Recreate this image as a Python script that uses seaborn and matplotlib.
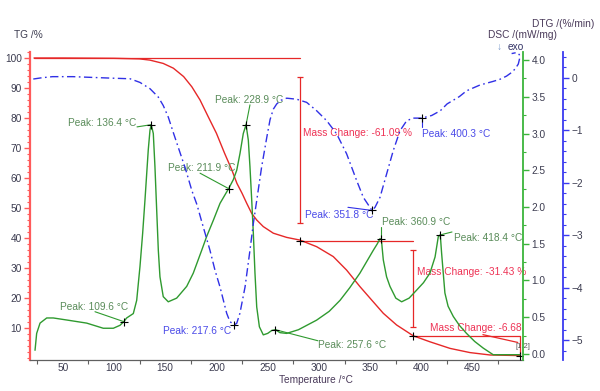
import numpy as np
import pandas as pd
import matplotlib
matplotlib.use("Agg")
import matplotlib.pyplot as plt
from matplotlib.ticker import MultipleLocator, FixedLocator, FormatStrFormatter
import seaborn as sns

# ---------------- data ----------------
tg_T = [22, 50, 100, 125, 135, 148, 158, 168, 176, 184, 192, 200, 208, 215, 220, 225,
        229.5, 234.4, 239.3, 245.7, 255.5, 268.5, 281.5, 297.8, 314, 327, 340, 351.5,
        362.8, 375.8, 392, 408.3, 427.9, 447.4, 467, 496]
tg_val = [100, 100, 99.9, 99.7, 99.3, 98.2, 96.6, 93.8, 90.4, 86, 80.4, 74.9, 68.2, 62.7,
          58.2, 54.9, 51.6, 48.2, 46, 43.8, 41.6, 40.2, 39.3, 37.1, 33.8, 29.3, 23.8, 19.3,
          14.9, 11, 7.4, 5.4, 3.2, 1.8, 1.0, 0.8]

dsc_T = [23, 24.6, 27.9, 34.4, 40.8, 55, 73.4, 89.6, 99.4, 105.9, 109.6, 112.4, 118.9,
         122.2, 125.4, 128, 130.3, 133.5, 135.2, 136.4, 138.4, 140, 141.7, 143.3, 144.9,
         148.1, 153, 161.2, 171, 177.4, 185.6, 190.5, 197, 203.5, 211.9, 216.4, 219.8, 223,
         226.2, 228.9, 231.1, 232.7, 234.4, 236, 237.6, 239.3, 241.9, 245.7, 250, 254, 257.6,
         262, 268.5, 280, 297.7, 310, 320.6, 330, 340, 353, 357, 359.6, 360.9, 362.8, 366,
         369.3, 375, 380.7, 388, 395.4, 402, 408.3, 413.3, 416.5, 418.4, 419.7, 422.9, 426,
         431.1, 437, 444, 452, 460.3, 470, 496]
dsc_val = [0.05, 0.28, 0.42, 0.49, 0.49, 0.46, 0.42, 0.35, 0.35, 0.39, 0.44, 0.49, 0.55,
           0.73, 1.19, 1.64, 2.10, 2.78, 3.05, 3.12, 3.0, 2.55, 1.96, 1.41, 1.05, 0.78, 0.71,
           0.76, 0.92, 1.10, 1.41, 1.60, 1.82, 2.05, 2.25, 2.37, 2.50, 2.73, 3.0, 3.12, 2.91,
           2.55, 2.10, 1.64, 1.10, 0.64, 0.37, 0.26, 0.28, 0.32, 0.33, 0.29, 0.28, 0.33, 0.46,
           0.58, 0.73, 0.90, 1.10, 1.41, 1.50, 1.57, 1.56, 1.28, 1.05, 0.92, 0.76, 0.71, 0.76,
           0.87, 0.97, 1.10, 1.32, 1.60, 1.62, 1.37, 0.83, 0.65, 0.51, 0.39, 0.28, 0.17, 0.08,
           -0.01, -0.01]

dtg_T = [21.3, 30, 40, 60, 86.4, 100, 115.7, 125.4, 135.2, 143.3, 148.1, 153, 158, 164, 170,
         176, 181, 185.6, 193.7, 198.6, 203.5, 210, 213.2, 217.6, 219.8, 222.9, 227.9, 232.7,
         236, 239.3, 244.1, 249, 252.3, 255.5, 258.8, 263, 268.5, 278.3, 288, 297.8, 307.6,
         317.3, 327, 336.8, 343.3, 351.8, 354.7, 359.6, 366.1, 372.5, 379.1, 385.6, 392, 400.3,
         410, 418.4, 425, 437, 444, 457, 470, 476.6, 483, 488, 491.5, 494.5, 496.1, 495.5,
         493, 488]
dtg_val = [-0.025, 0.0, 0.02, 0.02, 0.0, -0.01, -0.02, -0.09, -0.21, -0.37, -0.53, -0.75,
           -1.05, -1.4, -1.75, -2.15, -2.42, -2.74, -3.29, -3.67, -3.99, -4.49, -4.65, -4.71,
           -4.68, -4.49, -3.99, -3.29, -2.78, -2.34, -1.7, -1.15, -0.8, -0.6, -0.5, -0.43,
           -0.39, -0.41, -0.47, -0.63, -0.82, -1.07, -1.45, -1.96, -2.28, -2.53, -2.47, -2.28,
           -1.83, -1.39, -1.01, -0.82, -0.77, -0.77, -0.72, -0.63, -0.5, -0.36, -0.25, -0.14,
           -0.07, -0.03, 0.03, 0.10, 0.17, 0.26, 0.39, 0.44, 0.48, 0.46]

dsc_peak_T = [109.6, 136.4, 211.9, 228.9, 257.6, 360.9, 418.4]
dsc_peak_val = [0.44, 3.12, 2.25, 3.12, 0.33, 1.56, 1.62]
dtg_peak_T = [217.6, 351.8, 400.3]
dtg_peak_val = [-4.71, -2.53, -0.77]

mass_change = [-61.09, -31.43, -6.68]
step_T = [22, 281.5, 392, 496]
residual_label = "[1.2]"

x_ticks = [50, 100, 150, 200, 250, 300, 350, 400, 450]
tg_ticks = [10, 20, 30, 40, 50, 60, 70, 80, 90, 100]
dsc_ticks = [0.0, 0.5, 1.0, 1.5, 2.0, 2.5, 3.0, 3.5, 4.0]
dtg_ticks = [0, -1, -2, -3, -4, -5]

assert len(tg_T) == len(tg_val)
assert len(dsc_T) == len(dsc_val)
assert len(dtg_T) == len(dtg_val)

# ---------------- style ----------------
sns.set_theme(style="white")
plt.rcParams['font.family'] = ['Liberation Sans', 'DejaVu Sans']

RED = "#e62828"
RED_AX = "#ff5a5a"
RED_TXT = "#ee3355"
GREEN = "#2f9a2f"
GREEN_AX = "#3cb43c"
GREEN_TXT = "#5a8c5a"
BLUE = "#3030e6"
BLUE_AX = "#3a3af0"
BLUE_TXT = "#4a4ae8"
LBL = "#3c3c50"
FS = 7.3

W, H = 600, 391
fig = plt.figure(figsize=(W / 100, H / 100), dpi=100)
ax = fig.add_axes([30 / W, 1 - 360 / H, 493 / W, 308 / H])
ax2 = ax.twinx()
ax3 = ax.twinx()

# curves
sns.lineplot(x=tg_T, y=tg_val, ax=ax, color=RED, lw=1.0, sort=False, estimator=None)
sns.lineplot(x=dsc_T, y=dsc_val, ax=ax2, color=GREEN, lw=1.0, sort=False, estimator=None)
sns.lineplot(x=dtg_T, y=dtg_val, ax=ax3, color=BLUE, lw=1.0, sort=False, estimator=None)
ax3.lines[-1].set_dashes([6, 2.5, 1.2, 2.5])

ax.set_xlim(18.1, 499.1)
ax.set_ylim(-0.67, 102)
ax2.set_ylim(-0.082, 4.109)
ax3.set_ylim(-5.38, 0.49)

# TG mass change guides
levels = [100.0]
for m in mass_change:
    levels.append(levels[-1] + m)
lw_g = 0.9
ax.plot([step_T[0], step_T[1]], [levels[0], levels[0]], color=RED, lw=lw_g)
ax.plot([step_T[1], step_T[2]], [levels[1], levels[1]], color=RED, lw=lw_g)
ax.plot([step_T[2], step_T[3]], [levels[2], levels[2]], color=RED, lw=lw_g)
ax.plot([step_T[1], step_T[1]], [levels[0] - 6.2, levels[1] + 6], color=RED, lw=lw_g,
        marker="_", ms=4, mew=0.9)
ax.plot([step_T[2], step_T[2]], [levels[1] - 3, levels[2] + 3], color=RED, lw=lw_g,
        marker="_", ms=4, mew=0.9)
ax.plot([step_T[3], step_T[3]], [levels[2], levels[3]], color=RED, lw=lw_g)
ax.plot([step_T[3] - 36, step_T[3] - 2], [levels[2] + 0.3, levels[2] - 2.3], color=RED, lw=lw_g)
sns.scatterplot(x=step_T[1:], y=levels[1:], ax=ax, marker="+", color="black", s=30,
                linewidth=0.8, zorder=5)
ax.text(284.4, 75, f"Mass Change: {mass_change[0]:.2f} %", color=RED_TXT, fontsize=FS, va="center")
ax.text(395.4, 28.8, f"Mass Change: {mass_change[1]:.2f} %", color=RED_TXT, fontsize=FS, va="center")
ax.text(408.3, 10, f"Mass Change: {mass_change[2]:.2f}", color=RED_TXT, fontsize=FS, va="center")
ax.text(491.3, 3.7, residual_label, color="#555555", fontsize=5.5, va="center")

# DSC peaks
sns.scatterplot(x=dsc_peak_T, y=dsc_peak_val, ax=ax2, marker="+", color="black", s=30,
                linewidth=0.8, zorder=5)
dsc_txt = [(47.4, 0.644), (55.2, 3.14), (152.7, 2.53), (198.6, 3.46), (299, 0.12),
           (361.2, 1.80), (431.8, 1.58)]
dsc_lead = [(81.5, 0.575), (122.5, 3.09), (184, 2.46), (232.7, 3.39), (299, 0.18),
            (360.9, 1.73), (429.8, 1.66)]
for T, v, (tx, ty), (lx, ly) in zip(dsc_peak_T, dsc_peak_val, dsc_txt, dsc_lead):
    ax2.plot([lx, T], [ly, v], color=GREEN, lw=0.8)
    ax2.text(tx, ty, f"Peak: {T:.1f} °C", color=GREEN_TXT, fontsize=FS, va="center")

# DTG peaks
sns.scatterplot(x=dtg_peak_T, y=dtg_peak_val, ax=ax3, marker="+", color="black", s=30,
                linewidth=0.8, zorder=5)
dtg_txt = [(147.9, -4.83), (286.4, -2.62), (400.2, -1.065)]
dtg_lead = [(dtg_peak_T[0], dtg_peak_val[0]), (328.3, -2.47), (400.3, -0.945)]
for T, v, (tx, ty), (lx, ly) in zip(dtg_peak_T, dtg_peak_val, dtg_txt, dtg_lead):
    ax3.plot([lx, T], [ly, v], color=BLUE, lw=0.8)
    ax3.text(tx, ty, f"Peak: {T:.1f} °C", color=BLUE_TXT, fontsize=FS, va="center")

# ---------------- axes styling ----------------
for a in (ax, ax2, ax3):
    for s in a.spines.values():
        s.set_visible(False)
    a.grid(False)
    a.set_xlabel("")
    a.set_ylabel("")

ax.spines["left"].set_visible(True)
ax.spines["left"].set_color(RED_AX)
ax.spines["left"].set_linewidth(1.6)
ax.spines["bottom"].set_visible(True)
ax.spines["bottom"].set_color("#606060")
ax.spines["bottom"].set_linewidth(0.9)

ax.xaxis.set_major_locator(FixedLocator(x_ticks))
ax.xaxis.set_minor_locator(MultipleLocator(25))
ax.yaxis.set_major_locator(FixedLocator(tg_ticks))
ax.yaxis.set_minor_locator(MultipleLocator(2))
ax.tick_params(axis="x", which="both", bottom=True, direction="out", color="#606060",
               labelsize=FS, labelcolor=LBL, pad=2)
ax.tick_params(axis="x", which="major", length=0)
ax.tick_params(axis="x", which="minor", length=3, width=0.8)
ax.tick_params(axis="y", which="both", left=True, direction="out", color=RED_AX,
               labelsize=FS, labelcolor=LBL, pad=2)
ax.tick_params(axis="y", which="major", length=4, width=1.0)
ax.tick_params(axis="y", which="minor", length=2, width=0.8)

ax2.spines["right"].set_visible(True)
ax2.spines["right"].set_color(GREEN_AX)
ax2.spines["right"].set_linewidth(1.3)
ax2.yaxis.set_major_locator(FixedLocator(dsc_ticks))
ax2.yaxis.set_minor_locator(MultipleLocator(0.25))
ax2.yaxis.set_major_formatter(FormatStrFormatter("%.1f"))
ax2.tick_params(axis="y", which="both", right=True, direction="out", color=GREEN_AX,
                labelsize=FS, labelcolor=LBL, pad=2)
ax2.tick_params(axis="y", which="major", length=4, width=1.0)
ax2.tick_params(axis="y", which="minor", length=2, width=0.8)

ax3.spines["right"].set_visible(True)
ax3.spines["right"].set_position(("axes", 1.081))
ax3.spines["right"].set_color(BLUE_AX)
ax3.spines["right"].set_linewidth(1.3)
ax3.yaxis.set_major_locator(FixedLocator(dtg_ticks))
ax3.yaxis.set_minor_locator(MultipleLocator(0.2))
ax3.tick_params(axis="y", which="both", right=True, direction="out", color=BLUE_AX,
                labelsize=FS, labelcolor=LBL, pad=2)
ax3.tick_params(axis="y", which="major", length=4, width=1.0)
ax3.tick_params(axis="y", which="minor", length=2, width=0.8)

for a in (ax2, ax3):
    a.tick_params(axis="x", which="both", bottom=False, top=False, labelbottom=False)

# titles (placed in pixel space of the figure)
def ftext(x, y, s, **kw):
    fig.text(x / W, 1 - y / H, s, fontsize=FS, va="center", **kw)

ftext(14, 35, "TG /%", color=LBL)
ftext(532, 24, "DTG /(%/min)", color="#4a3a5a")
ftext(488, 35, "DSC /(mW/mg)", color="#4a3a5a")
ftext(497, 47, "↓", color="#7a9acc")
ftext(508, 47, "exo", color="#333366")
ftext(316, 380, "Temperature /°C", color="#4a3a5a", ha="center")

fig.savefig("out.png", dpi=100, facecolor="white")
